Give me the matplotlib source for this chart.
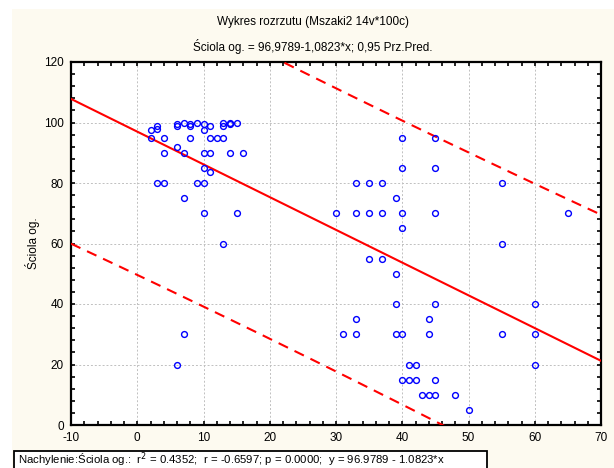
import numpy as np
import matplotlib
matplotlib.use("Agg")
import matplotlib.pyplot as plt
from matplotlib.patches import Rectangle
from matplotlib.ticker import MultipleLocator

plt.rcParams["font.family"] = ["Liberation Sans", "DejaVu Sans"]
plt.rcParams["axes.unicode_minus"] = False

# Mszaki2 - pokrycie mszaków vs. ściółka ogólna
mszaki = [2, 2, 3, 3, 3, 4, 4, 4, 6, 6, 6, 6, 7, 7, 7, 7, 8, 8, 8, 9, 9,
          10, 10, 10, 10, 10, 10, 11, 11, 11, 11, 12, 13, 13, 13, 13, 14, 14,
          14, 15, 15, 16,
          30, 31, 33, 33, 33, 33, 35, 35, 35, 37, 37, 37, 39, 39, 39, 39,
          40, 40, 40, 40, 40, 40, 41, 41, 42, 42, 43, 44, 44, 44,
          45, 45, 45, 45, 45, 45, 48, 50,
          55, 55, 55, 60, 60, 60, 65]
sciola = [97.5, 95, 99, 98, 80, 95, 90, 80, 99.5, 99, 92, 20, 100, 90, 75, 30,
          99.5, 99, 95, 100, 80, 99.5, 97.5, 90, 85, 80, 70, 99, 95, 90, 83.5,
          95, 100, 99, 95, 60, 100, 99.5, 90, 100, 70, 90,
          70, 30, 80, 70, 35, 30, 80, 70, 55, 80, 70, 55, 75, 50, 40, 30,
          95, 85, 70, 65, 30, 15, 20, 15, 20, 15, 10, 35, 30, 10,
          95, 85, 70, 40, 15, 10, 10, 5,
          80, 60, 30, 40, 30, 20, 70]

INTERCEPT = 96.9789
SLOPE = -1.0823
R2, R, P = 0.4352, -0.6597, 0.0000
T_95 = 1.984

x = np.array(mszaki, dtype=float)
y = np.array(sciola, dtype=float)
n = len(x)

# prediction band around the fitted line
xs = np.linspace(-10, 70, 400)
fit = INTERCEPT + SLOPE * xs
resid = y - (INTERCEPT + SLOPE * x)
s = np.sqrt(np.sum(resid ** 2) / (n - 2))
sxx = np.sum((x - x.mean()) ** 2)
half = T_95 * s * np.sqrt(1 + 1 / n + (xs - x.mean()) ** 2 / sxx)

fig = plt.figure(figsize=(6.14, 4.68), dpi=100)
fig.patch.set_facecolor("white")
fig.patches.append(Rectangle((12 / 614, 0), 1, 1 - 9 / 468, transform=fig.transFigure,
                             facecolor="#fdfaf0", edgecolor="none", zorder=-10))

ax = fig.add_axes([71 / 614, 1 - 425 / 468, 530 / 614, 363 / 468])
ax.set_facecolor("white")
ax.plot(xs, fit, color="red", lw=1.5, zorder=3)
ax.plot(xs, fit + half, color="red", lw=1.5, ls=(0, (5, 3.5)), zorder=3)
ax.plot(xs, fit - half, color="red", lw=1.5, ls=(0, (5, 3.5)), zorder=3)
ax.plot(x, y, ls="none", marker="o", ms=4.2, mfc="none", mec="blue", mew=1.0, zorder=4)

ax.set_xlim(-10, 70)
ax.set_ylim(0, 120)
ax.xaxis.set_major_locator(MultipleLocator(10))
ax.xaxis.set_minor_locator(MultipleLocator(2))
ax.yaxis.set_major_locator(MultipleLocator(20))
ax.yaxis.set_minor_locator(MultipleLocator(4))
ax.tick_params(which="both", direction="in", top=True, right=True, length=3,
               width=1.2, labelsize=8.5, pad=5)
ax.grid(True, which="major", color="#c0c0c0", ls=(0, (2, 2)), lw=0.7)
for sp in ax.spines.values():
    sp.set_linewidth(1.6)

ax.set_ylabel("Ściola og.", fontsize=8.5, labelpad=3)

fig.text(313 / 614, 1 - 22 / 468, "Wykres rozrzutu (Mszaki2 14v*100c)",
         ha="center", va="center", fontsize=8.5)
fig.text(313 / 614, 1 - 46 / 468, "Ściola og. = 96,9789-1,0823*x; 0,95 Prz.Pred.",
         ha="center", va="center", fontsize=8.5)

# statistics box along the bottom edge
stats = (f"Nachylenie:Ściola og.:  r$^2$ = {R2:.4f};  r = {R:.4f}; "
         f"p = {P:.4f};  y = {INTERCEPT:.4f} - {abs(SLOPE):.4f}*x")
fig.patches.append(Rectangle((14 / 614, -0.01), 473 / 614, 17 / 468 + 0.01,
                             transform=fig.transFigure, facecolor="white",
                             edgecolor="black", lw=1.3))
fig.text(18 / 614, 1 - 460 / 468, stats, ha="left", va="center", fontsize=8.2)

fig.savefig("out.png", dpi=100)
